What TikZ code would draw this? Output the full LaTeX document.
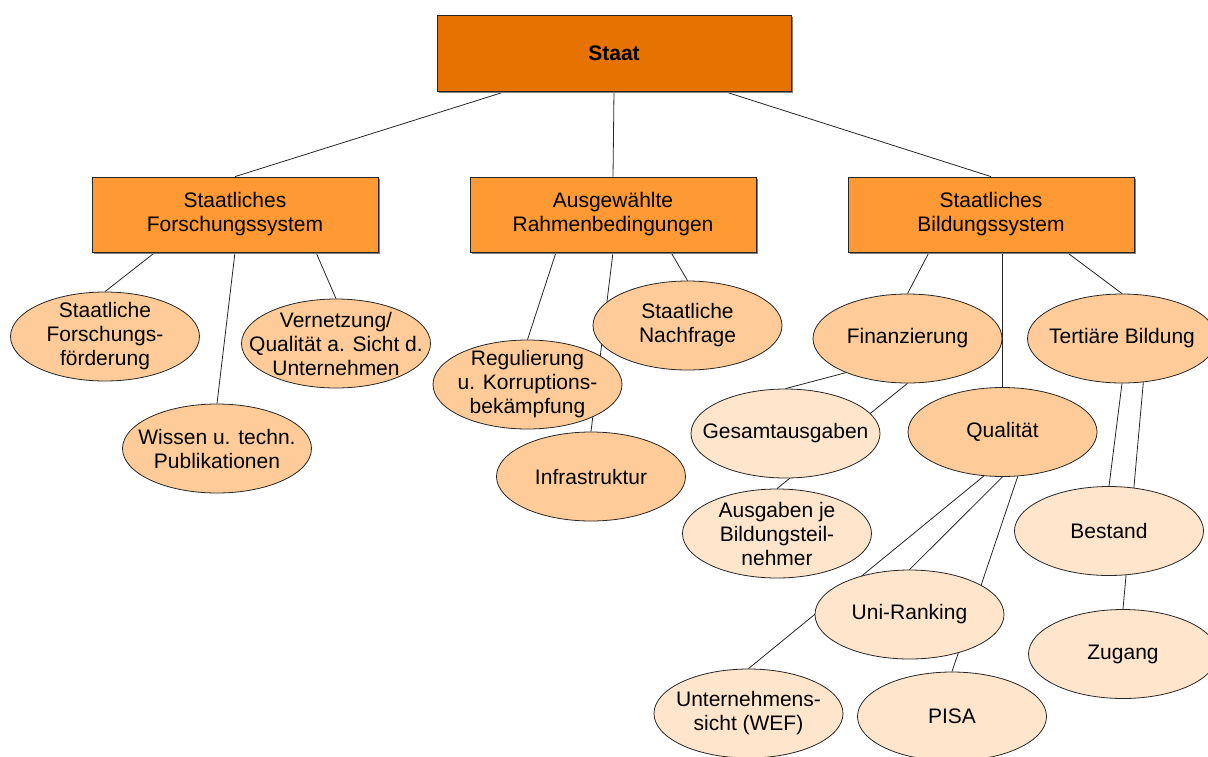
\documentclass[tikz,border=0pt]{standalone}
\usepackage{fontspec}
\setmainfont{Liberation Sans}
\usetikzlibrary{shapes.geometric, shadows}
\definecolor{staatorange}{HTML}{E67300}
\definecolor{boxorange}{HTML}{FF9933}
\definecolor{ellorange}{HTML}{FFCC99}
\definecolor{elllight}{HTML}{FFE5CC}
\pgfdeclarelayer{background}
\pgfsetlayers{background,main}

\begin{document}
\begin{tikzpicture}[x=1pt, y=-1pt,
  every node/.style={font=\fontsize{21}{24}\selectfont, align=center},
  boxshadow/.style={drop shadow={shadow xshift=1.5pt, shadow yshift=-1.5pt, fill=black!50, opacity=1}},
  topbox/.style={draw=black!85, line width=0.8pt, fill=staatorange, minimum width=354pt, minimum height=76pt, boxshadow},
  subbox/.style={draw=black!85, line width=0.8pt, fill=boxorange, minimum width=286pt, minimum height=75pt, boxshadow},
  topic/.style={ellipse, draw=black!85, line width=0.8pt, fill=ellorange, inner sep=-25pt, minimum width=189pt, minimum height=89pt},
  detail/.style={topic, fill=elllight},
  link/.style={draw=black!85, line width=0.8pt}]
  \useasboundingbox (0,0) rectangle (1208,756);
  \clip (0,0) rectangle (1208,756);

  \node[topbox] (staat) at (614,53) {\textbf{Staat}};

  \node[subbox] (fsys) at (235,214.5) {Staatliches\\Forschungssystem};
  \node[subbox] (rahm) at (613,214.5) {Ausgewählte\\Rahmenbedingungen};
  \node[subbox] (bsys) at (991,214.5) {Staatliches\\Bildungssystem};

  \node[topic] (fsf) at (105,336.5) {Staatliche\\Forschungs-\\förderung};
  \node[topic] (wis) at (217,448.5) {Wissen u. techn.\\Publikationen};
  \node[topic] (vern) at (336,343.5) {Vernetzung/\\Qualität a. Sicht d.\\Unternehmen};

  \node[topic] (nach) at (687.5,325.5) {Staatliche\\Nachfrage};
  \node[topic] (reg) at (527.5,384.5) {Regulierung\\u. Korruptions-\\bekämpfung};
  \node[topic] (infra) at (591,476.5) {Infrastruktur};

  \node[topic] (fin) at (907.5,338.5) {Finanzierung};
  \node[topic] (tert) at (1122,338.5) {Tertiäre Bildung};
  \node[topic] (qual) at (1002.5,432) {Qualität};
  \node[detail] (ges) at (785.5,433.5) {Gesamtausgaben};
  \node[detail] (aus) at (777,533.5) {Ausgaben je\\Bildungsteil-\\nehmer};
  \node[detail] (best) at (1109,531) {Bestand};
  \node[detail] (zug) at (1123,654) {Zugang};
  \node[detail] (uni) at (909.5,614.5) {Uni-Ranking};
  \node[detail] (unt) at (748.5,713.5) {Unternehmens-\\sicht (WEF)};
  \node[detail] (pisa) at (952,716.5) {PISA};

  \begin{pgfonlayer}{background}
    \draw[link] ([xshift=-108pt]staat.south) -- (fsys.north);
    \draw[link] (staat.south) -- (rahm.north);
    \draw[link] ([xshift=110pt]staat.south) -- (bsys.north);

    \draw[link] ([xshift=-80pt]fsys.south) -- (fsf.north);
    \draw[link] (fsys.south) -- (wis.north);
    \draw[link] ([xshift=81pt]fsys.south) -- (vern.north);

    \draw[link] ([xshift=-57pt]rahm.south) -- (reg.north);
    \draw[link] (rahm.south) -- (infra.north);
    \draw[link] ([xshift=58pt]rahm.south) -- (nach.north);

    \draw[link] ([xshift=-62pt]bsys.south) -- (fin.north);
    \draw[link] ([xshift=11.5pt]bsys.south) -- (qual.north);
    \draw[link] ([xshift=76pt]bsys.south) -- (tert.north);

    \draw[link] (fin.209) -- (ges.north);
    \draw[link] (fin.south) -- (aus.north);
    \draw[link] (tert.south) -- (best.north);
    \draw[link] (tert.296) -- (zug.north);
    \draw[link] (qual.south) -- (uni.north);
    \draw[link] (qual.247) -- (unt.north);
    \draw[link] (qual.289) -- (pisa.north);
  \end{pgfonlayer}
\end{tikzpicture}
\end{document}
